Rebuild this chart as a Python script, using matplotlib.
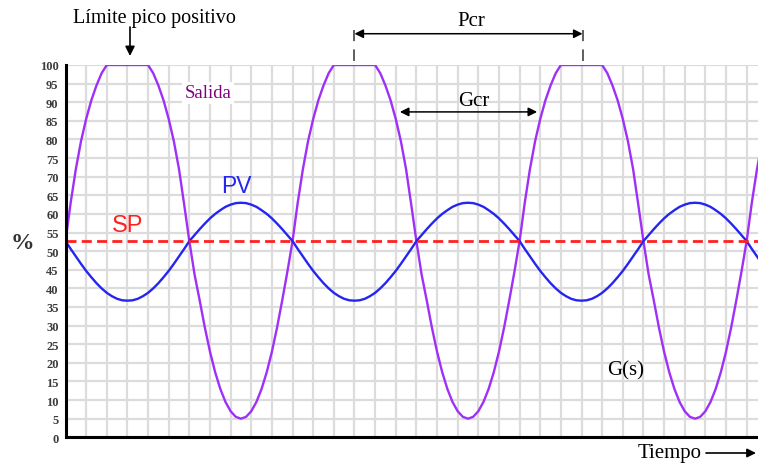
import matplotlib
matplotlib.use('Agg')
import matplotlib.pyplot as plt

# ---- data (x in grid units, y in %) ----
x_vals = [i * 0.25 for i in range(136)]  # 0 .. 33.75

pv_vals = [
    # 0 .. 10.75
    52.7, 50.6, 48.6, 46.6, 44.7, 43.0, 41.4, 40.0, 38.8, 37.9, 37.2, 36.8, 36.7,
    36.8, 37.2, 37.9, 38.8, 40.0, 41.4, 43.0, 44.7, 46.6, 48.6, 50.6,
    52.7, 54.3, 55.9, 57.4, 58.8, 60.0, 61.0, 61.9, 62.5, 62.9, 63.0,
    62.9, 62.5, 61.9, 61.0, 60.0, 58.8, 57.4, 55.9, 54.3,
    # 11 .. 21.75
    52.7, 50.6, 48.6, 46.6, 44.7, 43.0, 41.4, 40.0, 38.8, 37.9, 37.2, 36.8, 36.7,
    36.8, 37.2, 37.9, 38.8, 40.0, 41.4, 43.0, 44.7, 46.6, 48.6, 50.6,
    52.7, 54.3, 55.9, 57.4, 58.8, 60.0, 61.0, 61.9, 62.5, 62.9, 63.0,
    62.9, 62.5, 61.9, 61.0, 60.0, 58.8, 57.4, 55.9, 54.3,
    # 22 .. 32.75
    52.7, 50.6, 48.6, 46.6, 44.7, 43.0, 41.4, 40.0, 38.8, 37.9, 37.2, 36.8, 36.7,
    36.8, 37.2, 37.9, 38.8, 40.0, 41.4, 43.0, 44.7, 46.6, 48.6, 50.6,
    52.7, 54.3, 55.9, 57.4, 58.8, 60.0, 61.0, 61.9, 62.5, 62.9, 63.0,
    62.9, 62.5, 61.9, 61.0, 60.0, 58.8, 57.4, 55.9, 54.3,
    # 33 .. 33.75
    52.7, 50.6, 48.6, 46.6,
]

salida_vals = [
    # 0 .. 10.75
    52.7, 63.0, 72.0, 79.5, 85.5, 90.5, 94.5, 97.8, 100,
    100, 100, 100, 100, 100, 100, 100, 100,
    97.8, 94.5, 90.5, 85.5, 79.5, 72.0, 62.5,
    52.7, 43.8, 36.8, 29.5, 23.0, 17.5, 13.0, 9.5, 7.0, 5.5, 5.0,
    5.5, 7.0, 9.5, 13.0, 17.5, 23.0, 29.5, 36.8, 44.5,
    # 11 .. 21.75
    52.7, 63.0, 72.0, 79.5, 85.5, 90.5, 94.5, 97.8, 100,
    100, 100, 100, 100, 100, 100, 100, 100,
    97.8, 94.5, 90.5, 85.5, 79.5, 72.0, 62.5,
    52.7, 43.8, 36.8, 29.5, 23.0, 17.5, 13.0, 9.5, 7.0, 5.5, 5.0,
    5.5, 7.0, 9.5, 13.0, 17.5, 23.0, 29.5, 36.8, 44.5,
    # 22 .. 32.75
    52.7, 63.0, 72.0, 79.5, 85.5, 90.5, 94.5, 97.8, 100,
    100, 100, 100, 100, 100, 100, 100, 100,
    97.8, 94.5, 90.5, 85.5, 79.5, 72.0, 62.5,
    52.7, 43.8, 36.8, 29.5, 23.0, 17.5, 13.0, 9.5, 7.0, 5.5, 5.0,
    5.5, 7.0, 9.5, 13.0, 17.5, 23.0, 29.5, 36.8, 44.5,
    # 33 .. 33.75
    52.7, 63.0, 72.0, 79.5,
]

sp_value = 52.7
y_ticks = list(range(0, 101, 5))
x_grid = list(range(0, 34))
pcr_span = (14.0, 25.05)
gcr_span = (16.2, 22.85)

# ---- figure ----
W, H = 758, 464
fig = plt.figure(figsize=(W / 100, H / 100), dpi=100)
fig.patch.set_facecolor('white')
ax = fig.add_axes([65.5 / W, (H - 438.3) / H, 1 - 65.5 / W, (438.3 - 66) / H])

ax.set_xlim(0, 33.55)
ax.set_ylim(0, 100)
ax.set_xticks(x_grid)
ax.set_xticklabels([])
ax.set_yticks(y_ticks)
ax.set_yticklabels([str(v) for v in y_ticks], fontfamily='Liberation Serif',
                   fontweight='bold', fontsize=9, color='#3c3c3c')
ax.tick_params(length=0, pad=5)
ax.grid(True, color='#dcdcdc', lw=1.6)
ax.set_axisbelow(True)
for s in ['top', 'right']:
    ax.spines[s].set_visible(False)
for s in ['left', 'bottom']:
    ax.spines[s].set_color('black')
    ax.spines[s].set_linewidth(2.2)

ax.plot(x_vals, salida_vals, color='#9f30f8', lw=1.7, solid_joinstyle='round')
ax.plot(x_vals, pv_vals, color='#2525f0', lw=1.7, solid_joinstyle='round')
ax.axhline(sp_value, color='#ff2020', lw=2, dashes=(3.6, 1.9))

serif = 'Liberation Serif'


def P(x, y):
    return (x / W, 1 - y / H)


# Límite pico positivo
fig.text(*P(154, 18), 'Límite pico positivo', fontfamily=serif, fontsize=14.5,
         ha='center', va='center', color='black')
ax.annotate('', xy=P(130, 57), xycoords='figure fraction',
            xytext=P(130, 28), textcoords='figure fraction',
            arrowprops=dict(arrowstyle='-|>', color='black', lw=1.2,
                            mutation_scale=14, shrinkA=0, shrinkB=0),
            annotation_clip=False)

# Pcr
fig.text(*P(471, 22), 'Pcr', fontfamily=serif, fontsize=15, ha='center', va='center')
ax.annotate('', xy=(pcr_span[0], 108.4), xytext=(pcr_span[1], 108.4),
            arrowprops=dict(arrowstyle='<|-|>', color='black', lw=1.1,
                            mutation_scale=13, shrinkA=0, shrinkB=0),
            annotation_clip=False)
for xp in pcr_span:
    ax.plot([xp, xp], [101.0, 109.5], color='#333333', lw=1.1, dashes=(7.6, 5.4),
            clip_on=False)

# Gcr
fig.text(*P(474, 102), 'Gcr', fontfamily=serif, fontsize=15, ha='center', va='center')
ax.annotate('', xy=(gcr_span[0], 87.4), xytext=(gcr_span[1], 87.4),
            arrowprops=dict(arrowstyle='<|-|>', color='black', lw=1.1,
                            mutation_scale=13, shrinkA=0, shrinkB=0),
            annotation_clip=False)

# Salida
fig.text(*P(208, 94), 'Salida', fontfamily=serif, fontsize=13.5, ha='center',
         va='center', color='#800080',
         bbox=dict(boxstyle='square,pad=0.15', fc='white', ec='none'))

# PV, SP
fig.text(*P(236, 187), 'PV', fontfamily='Liberation Sans', fontsize=16.5,
         ha='center', va='center', color='#2525f0')
fig.text(*P(128, 226), 'SP', fontfamily='Liberation Sans', fontsize=17,
         ha='center', va='center', color='#ff2020')

# %
fig.text(*P(22, 244), '%', fontfamily=serif, fontsize=17, fontweight='bold',
         ha='center', va='center', color='#333333')

# G(s)
fig.text(*P(626, 371), 'G(s)', fontfamily=serif, fontsize=15, ha='center', va='center')

# Tiempo
fig.text(*P(670, 454), 'Tiempo', fontfamily=serif, fontsize=15, ha='center', va='center')
ax.annotate('', xy=P(756, 454), xycoords='figure fraction',
            xytext=P(706, 454), textcoords='figure fraction',
            arrowprops=dict(arrowstyle='-|>', color='black', lw=1.2,
                            mutation_scale=13, shrinkA=0, shrinkB=0),
            annotation_clip=False)

fig.savefig('out.png', dpi=100)
